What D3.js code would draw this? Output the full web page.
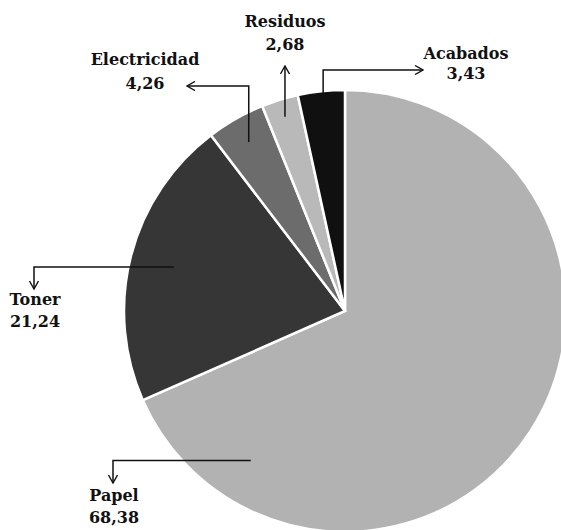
<!DOCTYPE html>
<html>
<head>
<meta charset="utf-8">
<script src="https://cdn.jsdelivr.net/npm/d3@7"></script>
<style>
  html, body { margin: 0; padding: 0; background: #fff; }
  svg { display: block; }
  .lbl { font-family: "DejaVu Serif", serif; font-weight: bold; font-size: 16px; fill: #111; }
</style>
</head>
<body>
<svg id="chart" width="561" height="530"></svg>
<script>
// Categories and their values
const categories = ["Papel", "Toner", "Electricidad", "Residuos", "Acabados"];
const values = [68.38, 21.24, 4.26, 2.68, 3.43];
const colors = ["#b2b2b2", "#363636", "#6c6c6c", "#b9b9b9", "#101010"];

// Callout layout: where the leader leaves the slice (fraction of its sweep,
// fraction of radius), how it bends, and where its label sits.
const calloutStart = [[0.862, 0.80], [0.5, 0.80], [0.5, 0.88], [0.5, 0.92], [0.5, 0.92]];
const calloutKind = ["left-down", "left-down", "up-left", "up", "up-right"];
const calloutBend = [113, 34, 86, 66, 70];   // bend coordinate (x for left-down, y for up*)
const calloutTip = [483, 289, 187, 66, 423];  // arrow tip coordinate
const labelPos = [[114, 501, 22], [35, 305, 22], [145, 65, 24], [null, 27, 23], [466, 59, 20]];

const width = 561, height = 530;
const cx = 345, cy = 311, radius = 221;

const svg = d3.select("#chart");

svg.append("defs").append("marker")
  .attr("id", "arrow")
  .attr("viewBox", "0 -5 10 10")
  .attr("refX", 9).attr("refY", 0)
  .attr("markerWidth", 10).attr("markerHeight", 10)
  .attr("markerUnits", "userSpaceOnUse")
  .attr("orient", "auto")
  .append("path")
  .attr("d", "M1,-4.5 L9,0 L1,4.5")
  .attr("fill", "none")
  .attr("stroke", "#111")
  .attr("stroke-width", 1.4);

const data = categories.map((c, i) => ({ name: c, value: values[i], color: colors[i] }));

const pie = d3.pie().sort(null).value(d => d.value).startAngle(0).endAngle(2 * Math.PI);
const arcs = pie(data);
const arc = d3.arc().innerRadius(0).outerRadius(radius);

const g = svg.append("g").attr("transform", `translate(${cx},${cy})`);

g.selectAll("path.slice")
  .data(arcs)
  .join("path")
  .attr("class", "slice")
  .attr("d", arc)
  .attr("fill", d => d.data.color)
  .attr("stroke", "#fff")
  .attr("stroke-width", 2.5)
  .attr("stroke-linejoin", "miter");

const fmt = d3.formatLocale({ decimal: ",", thousands: ".", grouping: [3], currency: ["", "€"] }).format(".2f");

arcs.forEach((a, i) => {
  const [t, rf] = calloutStart[i];
  const ang = a.startAngle + (a.endAngle - a.startAngle) * t;
  const sx = cx + Math.sin(ang) * radius * rf;
  const sy = cy - Math.cos(ang) * radius * rf;
  let pts;
  const kind = calloutKind[i];
  if (kind === "left-down") {
    pts = [[sx, sy], [calloutBend[i], sy], [calloutBend[i], calloutTip[i]]];
  } else if (kind === "up-left" || kind === "up-right") {
    pts = [[sx, sy], [sx, calloutBend[i]], [calloutTip[i], calloutBend[i]]];
  } else {
    pts = [[sx, sy], [sx, calloutTip[i]]];
  }
  svg.append("path")
    .attr("d", d3.line()(pts))
    .attr("fill", "none")
    .attr("stroke", "#111")
    .attr("stroke-width", 1.5)
    .attr("marker-end", "url(#arrow)");

  const lx = labelPos[i][0] == null ? sx : labelPos[i][0];
  const ly = labelPos[i][1];
  const gap = labelPos[i][2];
  const txt = svg.append("text").attr("class", "lbl").attr("text-anchor", "middle");
  txt.append("tspan").attr("x", lx).attr("y", ly).text(a.data.name);
  txt.append("tspan").attr("x", lx).attr("y", ly + gap).text(fmt(a.data.value));
});
</script>
</body>
</html>
